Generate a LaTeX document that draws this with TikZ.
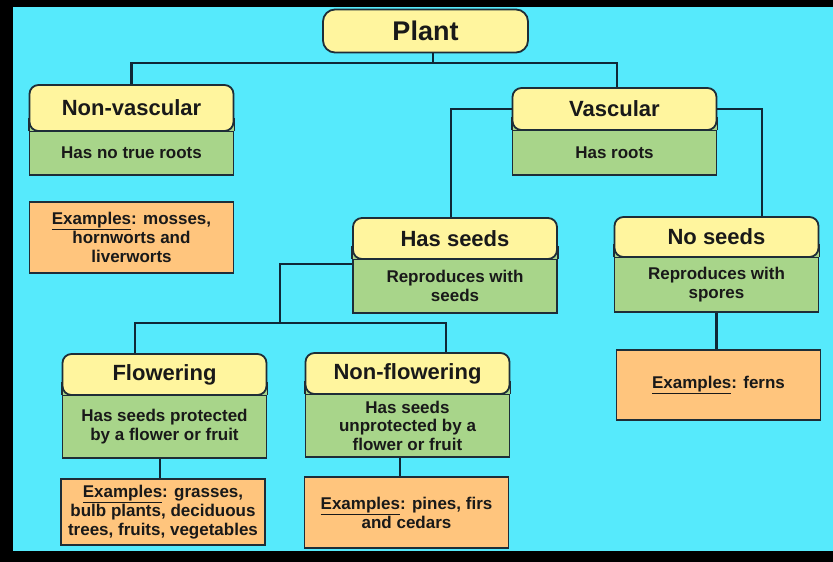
\documentclass[tikz,border=0pt]{standalone}
\usepackage{fontspec}
\setmainfont{Liberation Sans}
\definecolor{bgc}{RGB}{86,234,252}
\definecolor{headc}{RGB}{255,245,158}
\definecolor{bodyc}{RGB}{168,213,138}
\definecolor{explc}{RGB}{255,197,125}
\definecolor{edgec}{RGB}{30,45,55}
\definecolor{linec}{RGB}{15,40,55}
\definecolor{txtc}{RGB}{25,25,25}
\tikzset{
  head/.style={draw=edgec,line width=1.8pt,fill=headc,rounded corners=9pt,
    minimum width=204pt,text=txtc,font=\fontsize{22}{24}\selectfont\bfseries},
  body/.style={draw=edgec,line width=1.8pt,fill=bodyc,minimum width=204pt,
    inner ysep=2pt,align=center,text=txtc,font=\fontsize{17}{18.5}\selectfont\bfseries},
  expl/.style={draw=edgec,line width=1.8pt,fill=explc,minimum width=204pt,
    align=center,text=txtc,font=\fontsize{17}{19}\selectfont\bfseries},
  conn/.style={draw=linec,line width=2.5pt}
}
\begin{document}
\begin{tikzpicture}[x=1pt,y=-1pt]
\useasboundingbox (0,0) rectangle (833,562);
\fill[black] (0,0) rectangle (833,562);
\fill[bgc] (13,7) rectangle (833,551);

% green parts
\node[body,minimum height=44pt] (nvb) at (131.5,153) {Has no true roots};
\node[body,minimum height=45pt] (vab) at (614.5,152.5) {Has roots};
\node[body,minimum height=54pt] (hsb) at (455,286) {Reproduces with\\seeds};
\node[body,minimum height=55pt] (nsb) at (716.5,284.5) {Reproduces with\\spores};
\node[body,minimum height=63pt] (flb) at (164.5,426.5) {Has seeds protected\\by a flower or fruit};
\node[body,minimum height=63pt] (nfb) at (407.5,425.5) {Has seeds\\unprotected by a\\flower or fruit};
\foreach \b in {nvb,vab,hsb,nsb,flb,nfb}
  \path[fill=bodyc,draw=edgec,line width=1.8pt] ([yshift=-0.9pt]\b.north west) -- ++(0,12pt) -| ([yshift=-0.9pt]\b.north east);

% yellow headers
\node[head,minimum width=205pt,minimum height=43pt,rounded corners=12pt,
  font=\fontsize{27}{29}\selectfont\bfseries] (plant) at (425.5,31) {Plant};
\node[head,minimum height=46pt] (nvh) at (131.5,108) {Non-vascular};
\node[head,minimum height=42pt] (vah) at (614.5,109) {Vascular};
\node[head,minimum height=41pt] (hsh) at (455,238.5) {Has seeds};
\node[head,minimum height=40pt] (nsh) at (716.5,237) {No seeds};
\node[head,minimum height=41pt] (flh) at (164.5,374.5) {Flowering};
\node[head,minimum height=41pt] (nfh) at (407.5,373.5) {Non-flowering};

% examples
\node[expl,minimum height=71pt] (nvex) at (131.5,237.5) {\underline{Examples}: mosses,\\hornworts and\\liverworts};
\node[expl,minimum height=70pt] (nsex) at (718.5,385) {\underline{Examples}: ferns};
\node[expl,minimum height=66pt] (flex) at (163,512) {\underline{Examples}: grasses,\\bulb plants, deciduous\\trees, fruits, vegetables};
\node[expl,minimum height=71pt] (nfex) at (406.5,512.5) {\underline{Examples}: pines, firs\\and cedars};

% connectors
\coordinate (pbar) at (433,63);
\coordinate (hsbar) at (280,323);
\draw[conn] (plant.south -| pbar) -- (pbar);
\draw[conn] (nvh.north) |- (pbar) -| ([xshift=2.5pt]vah.north);
\draw[conn] (vah.west) -| ([xshift=-4pt]hsh.north);
\draw[conn] (vah.east) -| ([xshift=45.5pt]nsh.north);
\draw[conn] (nsb.south) -- (nsb.south |- nsex.north);
\draw[conn] ([yshift=-6pt]hsb.north west) -| (hsbar);
\draw[conn] ([xshift=-29.5pt]flh.north) |- (hsbar) -| ([xshift=38.5pt]nfh.north);
\draw[conn] ([xshift=-4.5pt]flb.south) -- ([xshift=-4.5pt]flb.south |- flex.north);
\draw[conn] ([xshift=-7.5pt]nfb.south) -- ([xshift=-7.5pt]nfb.south |- nfex.north);
\end{tikzpicture}
\end{document}
